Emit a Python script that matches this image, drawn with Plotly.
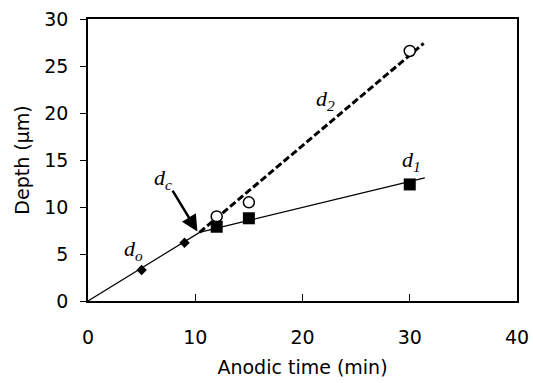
import plotly.graph_objects as go

# Data
d0_time = [5, 9]
d0_depth = [3.3, 6.2]

d1_time = [12, 15, 30]
d1_depth = [7.9, 8.8, 12.4]

d2_time = [12, 15, 30]
d2_depth = [9.0, 10.5, 26.6]

# fitted lines
solid_x = [0, 10.4, 31.4]
solid_y = [0, 7.3, 13.1]
dash_x = [10.4, 31.3]
dash_y = [7.3, 27.4]

x_ticks = [0, 10, 20, 30, 40]
y_ticks = [0, 5, 10, 15, 20, 25, 30]

fig = go.Figure()
fig.add_trace(go.Scatter(x=solid_x, y=solid_y, mode="lines",
                         line=dict(color="black", width=1.2), showlegend=False))
fig.add_trace(go.Scatter(x=dash_x, y=dash_y, mode="lines",
                         line=dict(color="black", width=3, dash="7px,3px"), showlegend=False))
fig.add_trace(go.Scatter(x=d0_time, y=d0_depth, mode="markers",
                         marker=dict(symbol="diamond", size=8, color="black"), showlegend=False))
fig.add_trace(go.Scatter(x=d2_time, y=d2_depth, mode="markers",
                         marker=dict(symbol="circle", size=11, color="white",
                                     line=dict(color="black", width=1.5)), showlegend=False))
fig.add_trace(go.Scatter(x=d1_time, y=d1_depth, mode="markers",
                         marker=dict(symbol="square", size=12, color="black"), showlegend=False))

serif = dict(family="Liberation Serif, DejaVu Serif, serif", size=22, color="black")
ann = [
    dict(x=4.2, y=5.4, text="<i>d</i><sub><i>o</i></sub>"),
    dict(x=7.0, y=13.0, text="<i>d</i><sub><i>c</i></sub>"),
    dict(x=22.1, y=21.4, text="<i>d</i><sub><i>2</i></sub>"),
    dict(x=30.2, y=14.9, text="<i>d</i><sub><i>1</i></sub>"),
]
for a in ann:
    fig.add_annotation(x=a["x"], y=a["y"], text=a["text"], showarrow=False, font=serif)

fig.add_annotation(x=10.2, y=7.4, ax=7.8, ay=11.9, axref="x", ayref="y",
                   text="", showarrow=True, arrowhead=2, arrowsize=1.3,
                   arrowwidth=2.5, arrowcolor="black")

axis_font = dict(family="DejaVu Sans, Liberation Sans, sans-serif", size=19, color="black")
fig.update_layout(
    width=533, height=383,
    margin=dict(l=88, r=16, t=19, b=82),
    plot_bgcolor="white", paper_bgcolor="white",
    font=axis_font,
    xaxis=dict(range=[0, 40], tickvals=x_ticks, ticks="inside", ticklen=7,
               tickcolor="black", showline=True, linecolor="black", linewidth=1.5,
               mirror=True, showgrid=False, zeroline=False, ticklabelstandoff=18,
               automargin=False,
               title=dict(text="Anodic time (min)", font=axis_font, standoff=14),
               tickfont=axis_font),
    yaxis=dict(range=[0, 30], tickvals=y_ticks, ticks="outside", ticklen=6,
               tickcolor="black", showline=True, linecolor="black", linewidth=1.5,
               mirror=True, showgrid=False, zeroline=False, ticklabelstandoff=8,
               automargin=False,
               title=dict(text="Depth (µm)", font=axis_font, standoff=10),
               tickfont=axis_font),
)

fig.write_html("out.html")
